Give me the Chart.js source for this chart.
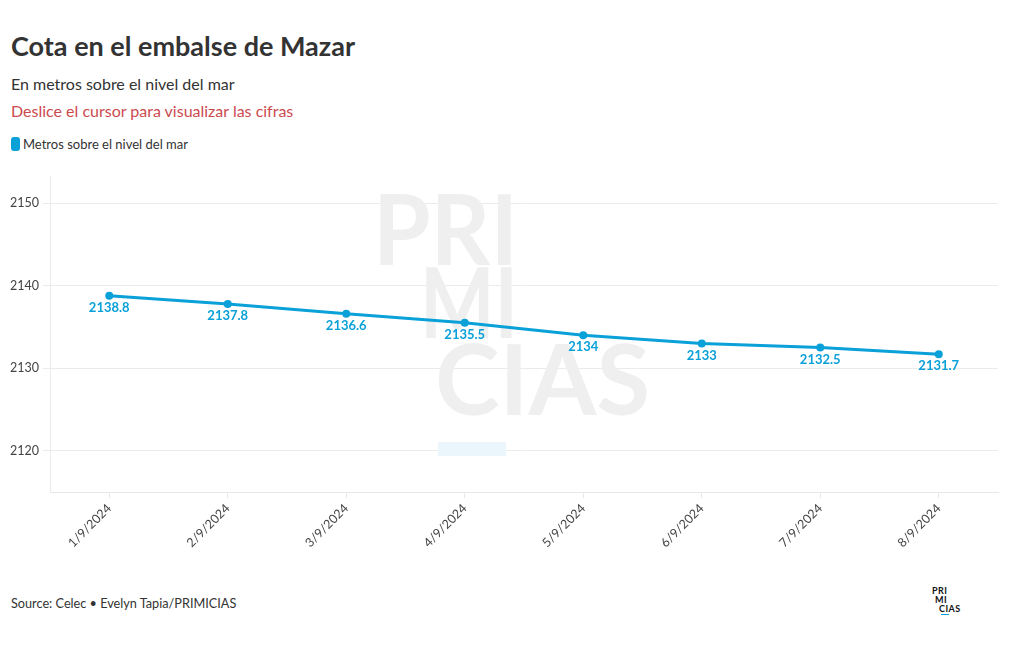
<!DOCTYPE html>
<html>
<head>
<meta charset="utf-8">
<script src="https://cdn.jsdelivr.net/npm/chart.js@4"></script>
<style>
  body { margin: 0; background: #fff; font-family: "Lato", "Noto Sans", sans-serif; color: #333; }
  #wrap { position: relative; width: 1020px; height: 650px; overflow: hidden; }
  .abs { position: absolute; white-space: nowrap; }
  #title { left: 11px; top: 29px; font-size: 27px; font-weight: bold; color: #333; }
  #sub { left: 11px; top: 74px; font-size: 16px; color: #333; }
  #hint { left: 11px; top: 101px; font-size: 16px; color: #cc4a4f; }
  #legend { left: 11px; top: 136px; font-size: 13px; color: #333; }
  #legend span.sw { display: inline-block; width: 9px; height: 14px; border-radius: 3px; background: #0aa0d8; vertical-align: -2px; margin-right: 3px; }
  #source { left: 11px; top: 595px; font-size: 12.7px; color: #333; }
  .logo { font-size: 9px; font-weight: bold; color: #111; line-height: 8px; letter-spacing: 0.5px; }
  #chartBox { position: absolute; left: 0; top: 160px; width: 1020px; height: 420px; }
</style>
</head>
<body>
<div id="wrap">
  <div class="abs" id="title">Cota en el embalse de Mazar</div>
  <div class="abs" id="sub">En metros sobre el nivel del mar</div>
  <div class="abs" id="hint">Deslice el cursor para visualizar las cifras</div>
  <div class="abs" id="legend"><span class="sw"></span>Metros sobre el nivel del mar</div>
  <div id="chartBox"><canvas id="chart" width="1020" height="420"></canvas></div>
  <div class="abs" id="source">Source: Celec • Evelyn Tapia/PRIMICIAS</div>
  <div class="abs logo" style="left:932px; top:587px;">PRI</div>
  <div class="abs logo" style="left:935px; top:596px;">MI</div>
  <div class="abs logo" style="left:939px; top:605px;">CIAS</div>
  <div class="abs" style="left:941px; top:614px; width:8px; height:1px; background:#0aa0d8;"></div>
</div>
<script>
const dates = ["1/9/2024", "2/9/2024", "3/9/2024", "4/9/2024", "5/9/2024", "6/9/2024", "7/9/2024", "8/9/2024"];
const metros = [2138.8, 2137.8, 2136.6, 2135.5, 2134, 2133, 2132.5, 2131.7];
const yTicks = [2120, 2130, 2140, 2150];

const lineColor = "#0aa0d8";

// big grey PRIMICIAS in the background, each line squeezed to its width
const watermark = {
  id: "watermark",
  beforeDatasetsDraw(chart) {
    const ctx = chart.ctx;
    const top = 160; // canvas offset on the page
    ctx.save();
    ctx.fillStyle = "#eaf6fc";
    ctx.fillRect(438, 442 - top, 68, 14);
    ctx.fillStyle = "#efefef";
    ctx.font = "bold 97px Lato";
    ctx.textBaseline = "alphabetic";
    const lines = [["PRI", 373, 145, 265], ["MI", 420, 98, 338], ["CIAS", 435, 215, 415]];
    lines.forEach(([txt, x, w, y]) => {
      const m = ctx.measureText(txt).width;
      ctx.save();
      ctx.translate(x, y - top);
      ctx.scale(w / m, 1);
      ctx.fillText(txt, 0, 0);
      ctx.restore();
    });
    ctx.restore();
  }
};

// value under each point
const valueLabels = {
  id: "valueLabels",
  afterDatasetsDraw(chart) {
    const ctx = chart.ctx;
    const meta = chart.getDatasetMeta(0);
    ctx.save();
    ctx.fillStyle = lineColor;
    ctx.font = "bold 13px Lato";
    ctx.textAlign = "center";
    ctx.textBaseline = "middle";
    meta.data.forEach((pt, i) => {
      ctx.fillText(String(metros[i]), pt.x, pt.y + 12);
    });
    ctx.restore();
  }
};

new Chart(document.getElementById("chart"), {
  type: "line",
  data: {
    labels: dates,
    datasets: [{
      label: "Metros sobre el nivel del mar",
      data: metros,
      borderColor: lineColor,
      backgroundColor: lineColor,
      borderWidth: 3,
      pointRadius: 4,
      pointBackgroundColor: lineColor,
      pointBorderWidth: 0,
      tension: 0
    }]
  },
  options: {
    responsive: false,
    maintainAspectRatio: false,
    animation: false,
    layout: { padding: { top: 16, right: 22, left: 0, bottom: 0 } },
    plugins: { legend: { display: false }, tooltip: { enabled: false } },
    scales: {
      x: {
        offset: true,
        afterFit: (scale) => { scale.height = 88; },
        grid: { display: true, drawOnChartArea: false, drawTicks: true, tickLength: 6, color: "#e8e8e8", offset: false },
        border: { color: "#e8e8e8" },
        ticks: {
          color: "#444",
          font: { family: "Lato", size: 12.5 },
          maxRotation: 45,
          minRotation: 45,
          padding: 3
        }
      },
      y: {
        min: 2115,
        max: 2153.3,
        afterFit: (scale) => { scale.width = 50; },
        afterBuildTicks: (scale) => { scale.ticks = yTicks.map(v => ({ value: v })); },
        grid: { color: "#ebebeb", tickLength: 7 },
        border: { color: "#ebebeb" },
        ticks: {
          color: "#444",
          font: { family: "Lato", size: 12.5 },
          padding: 4,
          callback: (v) => String(v)
        }
      }
    }
  },
  plugins: [watermark, valueLabels]
});
</script>
</body>
</html>
